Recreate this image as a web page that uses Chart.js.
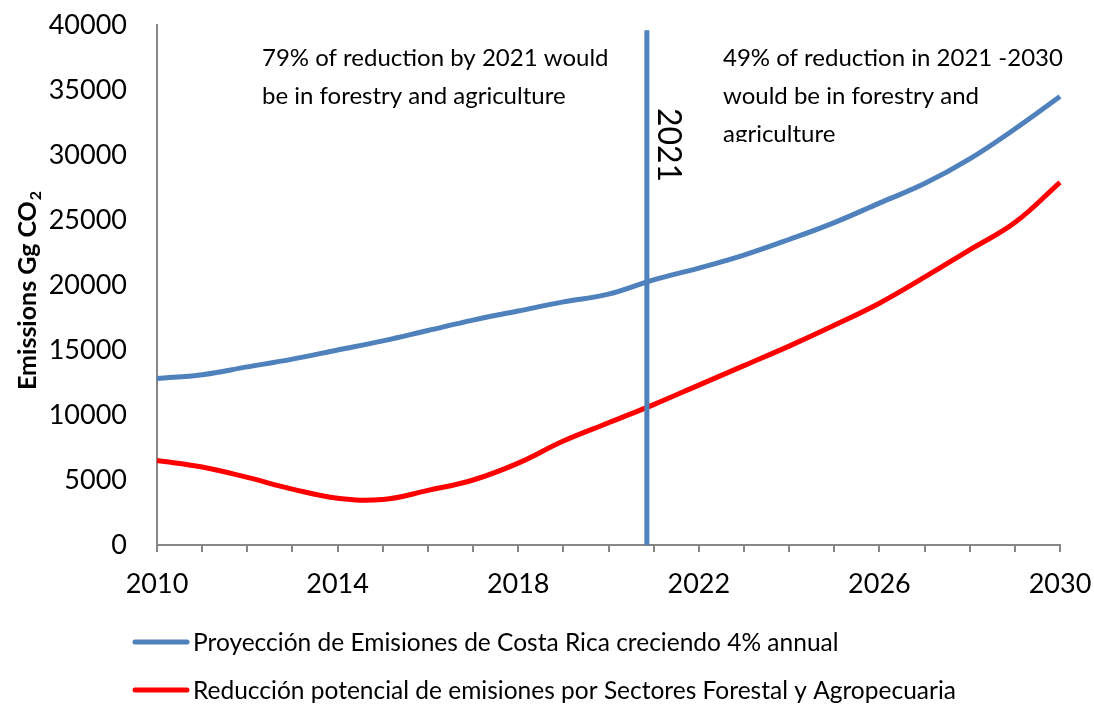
<!DOCTYPE html>
<html>
<head>
<meta charset="utf-8">
<script src="https://cdn.jsdelivr.net/npm/chart.js@4/dist/chart.umd.min.js"></script>
<style>
  html, body { margin: 0; padding: 0; background: #fff; }
  #wrap { width: 1094px; height: 704px; position: relative; }
</style>
</head>
<body>
<div id="wrap"><canvas id="emissionsChart"></canvas></div>
<script>
const years = [2010, 2011, 2012, 2013, 2014, 2015, 2016, 2017, 2018, 2019, 2020,
               2021, 2022, 2023, 2024, 2025, 2026, 2027, 2028, 2029, 2030];
const projection = [12800, 13100, 13700, 14300, 15000, 15700, 16500, 17300, 18000, 18700, 19300,
                    20400, 21300, 22300, 23500, 24800, 26300, 27800, 29700, 32000, 34500];
const reduction = [6500, 6000, 5200, 4300, 3600, 3500, 4200, 5000, 6300, 8000, 9400,
                   10800, 12300, 13800, 15300, 16900, 18600, 20600, 22700, 24800, 27900];
const xLabelYears = [2010, 2014, 2018, 2022, 2026, 2030];
const markerYear = 2020.85;
const markerTop = 39600;

const seriesNames = [
    'Proyección de Emisiones de Costa Rica creciendo 4% annual',
    'Reducción potencial de emisiones por Sectores Forestal y Agropecuaria'
];
const noteLeft = ['79% of reduction by 2021 would', 'be in forestry and agriculture'];
const noteRight = ['49% of reduction in 2021 -2030', 'would be in forestry and', 'agriculture'];

const FONT = 'Lato, "Open Sans", sans-serif';

// extra text: y title with subscript, notes, rotated year, legend
const extrasPlugin = {
    id: 'extras',
    afterDraw(chart) {
        const ctx = chart.ctx;
        const x = chart.scales.x;
        ctx.save();

        // y axis title
        ctx.save();
        ctx.translate(36, 390);
        ctx.rotate(-Math.PI / 2);
        ctx.fillStyle = '#000';
        ctx.textBaseline = 'alphabetic';
        ctx.textAlign = 'left';
        ctx.font = 'bold 25px ' + FONT;
        const main = 'Emissions Gg CO';
        ctx.fillText(main, 0, 0);
        const w = ctx.measureText(main).width;
        ctx.font = 'bold 16px ' + FONT;
        ctx.fillText('2', w + 1, 5);
        ctx.restore();

        // notes
        ctx.fillStyle = '#000';
        ctx.font = '24px ' + FONT;
        ctx.textBaseline = 'middle';
        ctx.textAlign = 'left';
        noteLeft.forEach((t, i) => ctx.fillText(t, 262, 58 + i * 38));
        ctx.save();
        ctx.beginPath();
        ctx.rect(700, 30, 394, 112);
        ctx.clip();
        noteRight.forEach((t, i) => ctx.fillText(t, 723, 58 + i * 38));
        ctx.restore();

        // rotated year on the marker line
        ctx.save();
        ctx.translate(x.getPixelForValue(markerYear) + 5, 145);
        ctx.rotate(Math.PI / 2);
        ctx.textAlign = 'center';
        ctx.textBaseline = 'bottom';
        ctx.font = '32px ' + FONT;
        ctx.fillText('2021', 0, 0);
        ctx.restore();

        // legend
        chart.data.datasets.slice(0, 2).forEach((ds, i) => {
            const y = 642 + i * 48;
            ctx.strokeStyle = ds.borderColor;
            ctx.lineWidth = 5;
            ctx.lineCap = 'round';
            ctx.beginPath();
            ctx.moveTo(135, y);
            ctx.lineTo(187, y);
            ctx.stroke();
            ctx.fillStyle = '#000';
            ctx.font = '24.5px ' + FONT;
            ctx.textBaseline = 'middle';
            ctx.fillText(ds.label, 193, y + 1);
        });
        ctx.restore();
    }
};

const ctx = document.getElementById('emissionsChart').getContext('2d');
new Chart(ctx, {
    type: 'line',
    data: {
        datasets: [
            {
                label: seriesNames[0],
                data: years.map((yr, i) => ({ x: yr, y: projection[i] })),
                borderColor: '#4F81BD',
                borderWidth: 5,
                pointRadius: 0,
                tension: 0.4,
                clip: false,
                order: 2
            },
            {
                label: seriesNames[1],
                data: years.map((yr, i) => ({ x: yr, y: reduction[i] })),
                borderColor: '#FF0000',
                borderWidth: 5,
                pointRadius: 0,
                tension: 0.4,
                clip: false,
                order: 1
            },
            {
                label: 'marker',
                data: [{ x: markerYear, y: 0 }, { x: markerYear, y: markerTop }],
                borderColor: '#4F81BD',
                borderWidth: 5,
                pointRadius: 0,
                tension: 0,
                clip: false,
                order: 0
            }
        ]
    },
    options: {
        responsive: true,
        maintainAspectRatio: false,
        animation: false,
        layout: { padding: { top: 25, right: 34, left: 0, bottom: 0 } },
        plugins: {
            legend: { display: false },
            tooltip: { enabled: false }
        },
        scales: {
            x: {
                type: 'linear',
                min: 2010,
                max: 2030,
                afterFit(scale) {
                    scale.height = 159;
                    scale.paddingLeft = 0;
                    scale.paddingRight = 0;
                },
                border: { display: true, color: '#868686', width: 2 },
                grid: { drawOnChartArea: false, drawTicks: true, tickLength: 7, color: '#868686', lineWidth: 2 },
                ticks: {
                    stepSize: 1,
                    autoSkip: false,
                    maxRotation: 0,
                    padding: 16,
                    color: '#000',
                    font: { family: FONT, size: 27 },
                    callback: v => xLabelYears.includes(v) ? String(v) : ''
                }
            },
            y: {
                min: 0,
                max: 40000,
                afterFit(scale) {
                    scale.width = 157;
                    scale.paddingTop = 0;
                    scale.paddingBottom = 0;
                },
                border: { display: true, color: '#868686', width: 2 },
                grid: { display: false, drawTicks: false },
                ticks: {
                    stepSize: 5000,
                    padding: 30,
                    color: '#000',
                    font: { family: FONT, size: 27 },
                    callback: v => String(v)
                }
            }
        }
    },
    plugins: [extrasPlugin]
});
</script>
</body>
</html>
